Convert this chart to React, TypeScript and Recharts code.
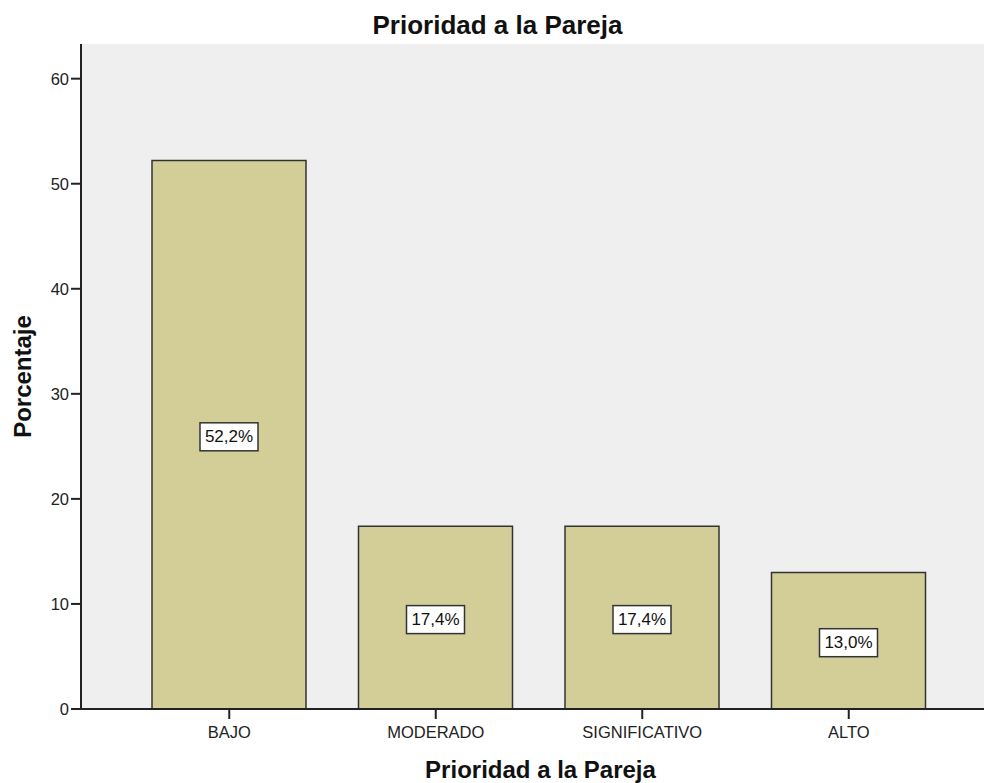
import React from "react";
import { BarChart, Bar, XAxis, YAxis, CartesianGrid, LabelList, Label } from "recharts";

const categories = ["BAJO", "MODERADO", "SIGNIFICATIVO", "ALTO"];
const percentages = [52.2, 17.4, 17.4, 13.0];
const yTicks = [0, 10, 20, 30, 40, 50, 60];

const data = categories.map((name, i) => ({ name, value: percentages[i] }));

const FONT = "'Liberation Sans', Arial, sans-serif";

const BoxLabel = (props: any) => {
  const { x, y, width, height, value } = props;
  const cx = x + width / 2;
  const cy = y + height / 2 + 2;
  const text = value.toFixed(1).replace(".", ",") + "%";
  return (
    <g>
      <rect x={cx - 29} y={cy - 14} width={58} height={28} fill="#ffffff" stroke="#333333" strokeWidth={1.5} />
      <text x={cx} y={cy} textAnchor="middle" dominantBaseline="central" fontSize={17} fontFamily={FONT} fill="#111">
        {text}
      </text>
    </g>
  );
};

export default function App() {
  return (
    <div style={{ position: "absolute", left: 0, top: 0, width: 984, height: 783, overflow: "hidden", background: "#fff", fontFamily: FONT }}>
      <div style={{ position: "absolute", left: 0, top: 13, width: 995, textAlign: "center", fontSize: 26, lineHeight: "24px", fontWeight: "bold", color: "#111" }}>
        Prioridad a la Pareja
      </div>
      <BarChart width={984} height={783} data={data} margin={{ top: 44, right: 0, bottom: 0, left: 0 }}>
        <CartesianGrid fill="#efefef" horizontal={false} vertical={false} />
        <XAxis
          xAxisId="top"
          orientation="top"
          dataKey="name"
          height={0}
          tick={false}
          tickLine={false}
          axisLine={{ stroke: "#555", strokeWidth: 2 }}
        />
        <XAxis
          dataKey="name"
          height={74}
          padding={{ left: 45, right: 32 }}
          tickSize={10}
          tickMargin={7}
          axisLine={{ stroke: "#222", strokeWidth: 2 }}
          tickLine={{ stroke: "#222", strokeWidth: 2 }}
          tick={{ fontSize: 16.5, fill: "#222", fontFamily: FONT }}
        >
          <Label value="Prioridad a la Pareja" position="insideBottom" offset={5} dx={8} fontSize={24} fontWeight="bold" fill="#111" fontFamily={FONT} />
        </XAxis>
        <YAxis
          width={81}
          domain={[0, 63.3]}
          ticks={yTicks}
          allowDataOverflow
          tickSize={10}
          tickMargin={2}
          axisLine={{ stroke: "#222", strokeWidth: 2 }}
          tickLine={{ stroke: "#222", strokeWidth: 2 }}
          tick={{ fontSize: 16.5, fill: "#222", fontFamily: FONT }}
        >
          <Label value="Porcentaje" angle={-90} position="insideLeft" offset={22} style={{ textAnchor: "middle" }} fontSize={24} fontWeight="bold" fill="#111" fontFamily={FONT} />
        </YAxis>
        <Bar dataKey="value" barSize={154} fill="#d3ce97" stroke="#333" strokeWidth={1.5} isAnimationActive={false}>
          <LabelList dataKey="value" content={<BoxLabel />} />
        </Bar>
      </BarChart>
    </div>
  );
}
